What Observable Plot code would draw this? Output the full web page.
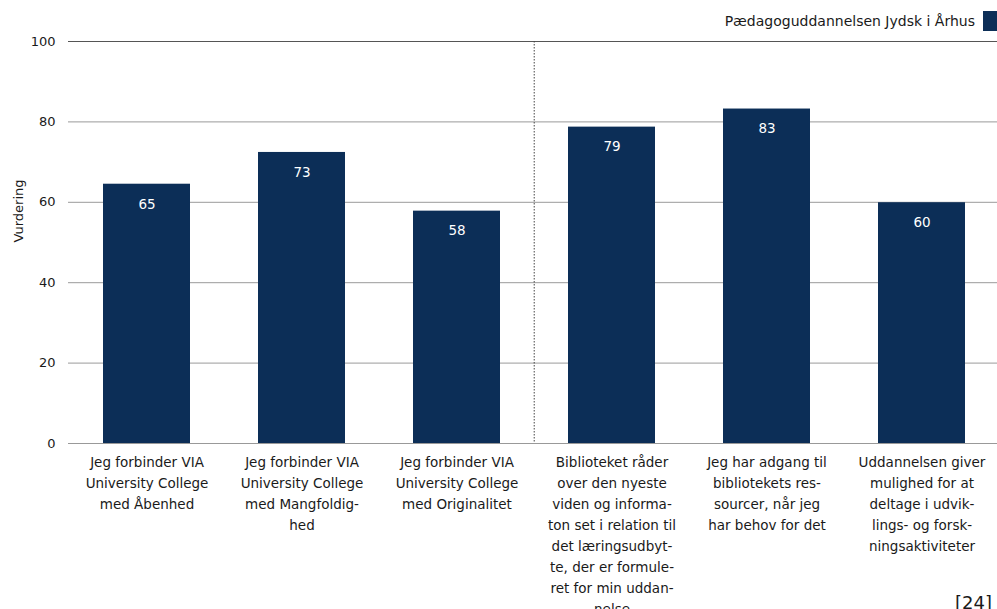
<!DOCTYPE html>
<html>
<head>
<meta charset="utf-8">
<script src="https://cdn.jsdelivr.net/npm/d3@7"></script>
<script src="https://cdn.jsdelivr.net/npm/@observablehq/plot@0.6"></script>
<style>
  html, body { margin: 0; padding: 0; background: #fff; }
  #wrap { position: relative; width: 997px; height: 609px; overflow: hidden; font-family: "DejaVu Sans", sans-serif; }
  #legend { position: absolute; right: 0; top: 11px; display: flex; align-items: center; font-size: 14px; color: #1a1a1a; }
  #legend .sw { width: 20px; height: 20px; margin-left: 8px; margin-right: -6px; }
  #note { position: absolute; right: 5px; top: 592px; font-size: 18px; color: #1a1a1a; }
</style>
</head>
<body>
<div id="wrap">
  <div id="chart"></div>
  <div id="legend"><span id="legtext"></span><span class="sw" id="legsw"></span></div>
  <div id="note"></div>
</div>
<script>
const categories = [
  "Jeg forbinder VIA\nUniversity College\nmed Åbenhed",
  "Jeg forbinder VIA\nUniversity College\nmed Mangfoldig-\nhed",
  "Jeg forbinder VIA\nUniversity College\nmed Originalitet",
  "Biblioteket råder\nover den nyeste\nviden og informa-\nton set i relation til\ndet læringsudbyt-\nte, der er formule-\nret for min uddan-\nnelse",
  "Jeg har adgang til\nbibliotekets res-\nsourcer, når jeg\nhar behov for det",
  "Uddannelsen giver\nmulighed for at\ndeltage i udvik-\nlings- og forsk-\nningsaktiviteter"
];
const values = [64.5, 72.4, 57.8, 78.7, 83.2, 59.9];
const labels = ["65", "73", "58", "79", "83", "60"];
const yTicks = [0, 20, 40, 60, 80, 100];
const gridTicks = [20, 40, 60, 80];
const seriesName = "Pædagoguddannelsen Jydsk i Århus";
const yLabel = "Vurdering";
const note = "[24]";
const dividerBefore = 3; // index of the first category after the dotted divider

const barColor = "#0c2e57";
const data = categories.map((c, i) => ({cat: c, value: values[i], label: labels[i]}));

const xRange = [67.5, 1001];
const step = (xRange[1] - xRange[0]) / categories.length;

const plot = Plot.plot({
  width: 997,
  height: 609,
  marginLeft: 68,
  marginRight: 0,
  marginTop: 41,
  marginBottom: 166,
  style: {fontFamily: "DejaVu Sans, sans-serif", fontSize: "12.5px", color: "#1a1a1a", background: "transparent"},
  x: {domain: categories, range: xRange, paddingInner: 0.44, paddingOuter: 0.22},
  y: {domain: [0, 100]},
  marks: [
    Plot.ruleY(gridTicks, {stroke: "#9a9a9a", strokeWidth: 1}),
    Plot.ruleY([100], {stroke: "#555", strokeWidth: 1}),
    Plot.barY(data, {x: "cat", y: "value", fill: barColor}),
    Plot.ruleY([0], {stroke: "#999", strokeWidth: 1.2}),
    Plot.ruleX([categories[dividerBefore]], {dx: -step / 2, stroke: "#444", strokeDasharray: "1.5,1.5", strokeWidth: 1}),
    Plot.text(data, {x: "cat", y: "value", text: "label", dy: 20, fill: "white", fontSize: 13.5}),
    Plot.axisY({ticks: yTicks, tickSize: 0, tickPadding: 13, label: null, fontSize: 13}),
    Plot.text([yLabel], {frameAnchor: "left", rotate: -90, dx: -50, fontSize: 13}),
    Plot.axisX({tickSize: 0, tickPadding: 9, label: null, lineHeight: 1.55, fontSize: 13.5, textOverflow: null})
  ]
});
document.getElementById("chart").appendChild(plot);
document.getElementById("legtext").textContent = seriesName;
document.getElementById("legsw").style.background = barColor;
document.getElementById("note").textContent = note;
</script>
</body>
</html>
